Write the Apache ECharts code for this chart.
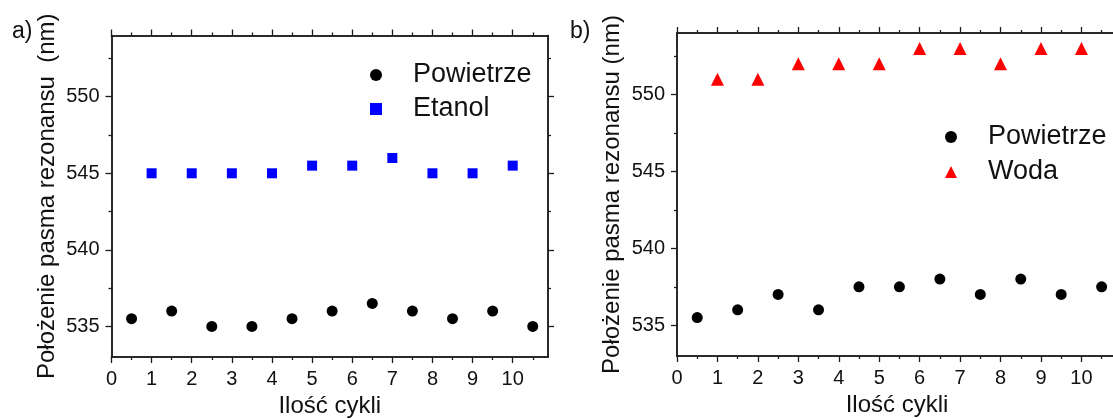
<!DOCTYPE html>
<html>
<head>
<meta charset="utf-8">
<script src="https://cdn.jsdelivr.net/npm/echarts@6/dist/echarts.min.js"></script>
<style>
html,body{margin:0;padding:0;background:#fff;}
#chart{width:1113px;height:419px;}
</style>
</head>
<body>
<div id="chart"></div>
<script>
// ---- data ----
const cyclesAir = [0.5, 1.5, 2.5, 3.5, 4.5, 5.5, 6.5, 7.5, 8.5, 9.5, 10.5];
const cyclesLiquid = [1, 2, 3, 4, 5, 6, 7, 8, 9, 10];
const airA = [535.5, 536, 535, 535, 535.5, 536, 536.5, 536, 535.5, 536, 535];
const etanol = [545, 545, 545, 545, 545.5, 545.5, 546, 545, 545, 545.5];
const airB = [535.5, 536, 537, 536, 537.5, 537.5, 538, 537, 538, 537, 537.5];
const woda = [551, 551, 552, 552, 552, 553, 553, 552, 553, 553];
const xMajor = [0, 1, 2, 3, 4, 5, 6, 7, 8, 9, 10];
const xMinor = [0.5, 1.5, 2.5, 3.5, 4.5, 5.5, 6.5, 7.5, 8.5, 9.5, 10.5];
const yMajor = [535, 540, 545, 550];
const yMinor = [537.5, 542.5, 547.5, 552.5];
const yTitleA = 'Położenie pasma rezonansu  (nm)';
const yTitleB = 'Położenie pasma rezonansu (nm)';
const xTitle = 'Ilość cykli';

const FONT = 'Liberation Sans, Arial, sans-serif';
const AX = '#1c1c1c';
const XMIN = 0, XMAX = 10.88, YMIN = 533, YMAX = 554;

function pairs(xs, ys) { return xs.map((x, i) => [x, ys[i]]); }

function xAxes(g, nameGap) {
  const base = {
    gridIndex: g, type: 'value', min: XMIN, max: XMAX,
    splitLine: { show: false },
    axisLine: { show: true, onZero: false, lineStyle: { color: AX, width: 1.5 } }
  };
  const tl = { color: AX, width: 1.3 };
  return [
    Object.assign({}, base, {
      position: 'bottom', name: xTitle, nameLocation: 'middle', nameGap: nameGap,
      nameTextStyle: { fontFamily: FONT, fontSize: 24, color: '#111' },
      axisTick: { show: true, length: 6, customValues: xMajor, lineStyle: tl },
      axisLabel: { show: true, customValues: xMajor, margin: 12, fontFamily: FONT, fontSize: 20, color: '#111' }
    }),
    Object.assign({}, base, {
      position: 'bottom',
      axisTick: { show: true, length: 3, customValues: xMinor, lineStyle: tl },
      axisLabel: { show: false }
    }),
    Object.assign({}, base, {
      position: 'top',
      axisTick: { show: true, length: 6, customValues: xMajor, lineStyle: tl },
      axisLabel: { show: false }
    }),
    Object.assign({}, base, {
      position: 'top',
      axisTick: { show: true, length: 3, customValues: xMinor, lineStyle: tl },
      axisLabel: { show: false }
    })
  ];
}

function yAxes(g, name, nameGap) {
  const base = {
    gridIndex: g, type: 'value', min: YMIN, max: YMAX,
    splitLine: { show: false },
    axisLine: { show: true, onZero: false, lineStyle: { color: AX, width: 1.5 } }
  };
  const tl = { color: AX, width: 1.3 };
  return [
    Object.assign({}, base, {
      position: 'left', name: name, nameLocation: 'middle', nameGap: nameGap, nameRotate: 90,
      nameTextStyle: { fontFamily: FONT, fontSize: 24, color: '#111' },
      axisTick: { show: true, length: 6, customValues: yMajor, lineStyle: tl },
      axisLabel: { show: true, customValues: yMajor, margin: 12, fontFamily: FONT, fontSize: 20, color: '#111' }
    }),
    Object.assign({}, base, {
      position: 'left',
      axisTick: { show: true, length: 3, customValues: yMinor, lineStyle: tl },
      axisLabel: { show: false }
    }),
    Object.assign({}, base, {
      position: 'right',
      axisTick: { show: true, length: 6, customValues: yMajor, lineStyle: tl },
      axisLabel: { show: false }
    }),
    Object.assign({}, base, {
      position: 'right',
      axisTick: { show: true, length: 3, customValues: yMinor, lineStyle: tl },
      axisLabel: { show: false }
    })
  ];
}

const chart = echarts.init(document.getElementById('chart'), null, { renderer: 'canvas' });
const legendText = { fontFamily: FONT, fontSize: 27, color: '#111', lineHeight: 32, padding: [0, 0, 0, 26] };

chart.setOption({
  backgroundColor: '#ffffff',
  animation: false,
  title: [
    { text: 'a)', left: 7, top: 15, textStyle: { fontFamily: FONT, fontSize: 23, fontWeight: 'normal', color: '#111' } },
    { text: 'b)', left: 565, top: 15, textStyle: { fontFamily: FONT, fontSize: 23, fontWeight: 'normal', color: '#111' } }
  ],
  grid: [
    { left: 111.5, top: 35.5, width: 436.5, height: 321.5, outerBoundsMode: 'none', containLabel: false },
    { left: 677, top: 33, width: 440, height: 323, outerBoundsMode: 'none', containLabel: false }
  ],
  legend: [
    { data: ['Powietrze', 'Etanol'], orient: 'vertical', left: 365, top: 54, itemWidth: 12, itemHeight: 12, itemGap: 2, textStyle: legendText, selectedMode: false },
    { data: ['Powietrze', 'Woda'], orient: 'vertical', left: 940, top: 116, itemWidth: 12, itemHeight: 12, itemGap: 3, textStyle: legendText, selectedMode: false }
  ],
  xAxis: xAxes(0, 36).concat(xAxes(1, 30)),
  yAxis: yAxes(0, yTitleA, 52).concat(yAxes(1, yTitleB, 53)),
  series: [
    { name: 'Powietrze', type: 'scatter', xAxisIndex: 0, yAxisIndex: 0, symbol: 'circle', symbolSize: 11,
      itemStyle: { color: '#000', opacity: 1 }, data: pairs(cyclesAir, airA) },
    { name: 'Etanol', type: 'scatter', xAxisIndex: 0, yAxisIndex: 0, symbol: 'rect', symbolSize: 10,
      itemStyle: { color: '#0000ff', opacity: 1 }, data: pairs(cyclesLiquid, etanol) },
    { name: 'Powietrze', type: 'scatter', xAxisIndex: 4, yAxisIndex: 4, symbol: 'circle', symbolSize: 11,
      itemStyle: { color: '#000', opacity: 1 }, data: pairs(cyclesAir, airB) },
    { name: 'Woda', type: 'scatter', xAxisIndex: 4, yAxisIndex: 4, symbol: 'triangle', symbolSize: 13,
      itemStyle: { color: '#ff0000', opacity: 1 }, data: pairs(cyclesLiquid, woda) }
  ]
});
</script>
</body>
</html>
